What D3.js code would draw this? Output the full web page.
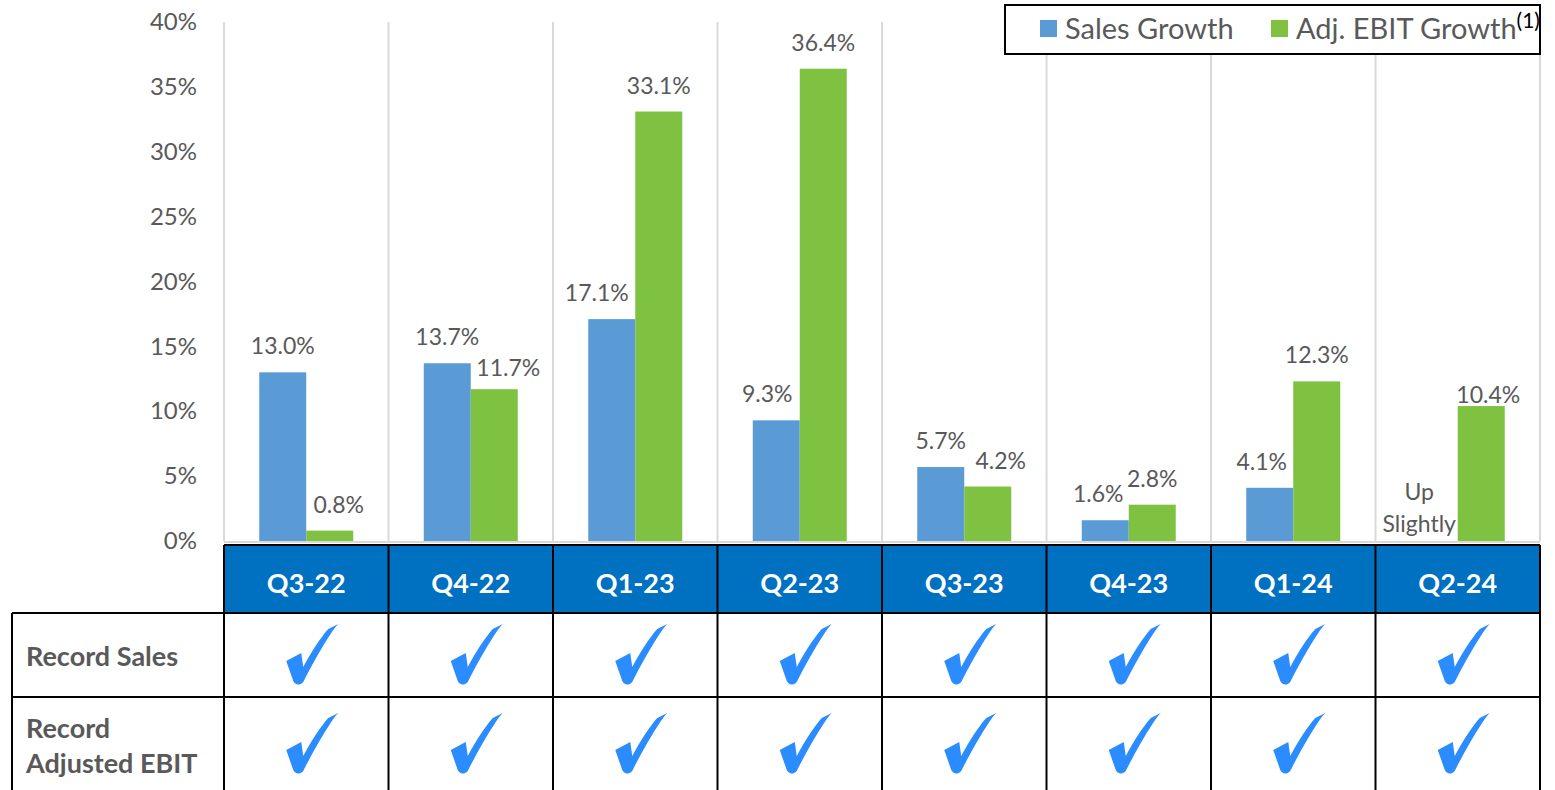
<!DOCTYPE html>
<html>
<head>
<meta charset="utf-8">
<script src="https://cdn.jsdelivr.net/npm/d3@7"></script>
<style>
  body { margin: 0; background: #fff; }
  svg { display: block; font-family: Lato, "Open Sans", sans-serif; }
</style>
</head>
<body>
<div id="chart"></div>
<script>
const quarters = ["Q3-22", "Q4-22", "Q1-23", "Q2-23", "Q3-23", "Q4-23", "Q1-24", "Q2-24"];
const salesGrowth = [13.0, 13.7, 17.1, 9.3, 5.7, 1.6, 4.1, null];
const ebitGrowth = [0.8, 11.7, 33.1, 36.4, 4.2, 2.8, 12.3, 10.4];
const seriesNames = ["Sales Growth", "Adj. EBIT Growth"];
const yTicks = [0, 5, 10, 15, 20, 25, 30, 35, 40];
const rowLabels = [["Record Sales"], ["Record", "Adjusted EBIT"]];
const recordSales = [true, true, true, true, true, true, true, true];
const recordEbit = [true, true, true, true, true, true, true, true];

const width = 1555, height = 790;
const colors = ["#5B9BD5", "#7FC241"];
const textGray = "#595959";

const svg = d3.select("#chart").append("svg")
    .attr("width", width)
    .attr("height", height);

const x = d3.scaleBand().domain(quarters).range([224, 1540]).paddingInner(0);
const x1 = d3.scaleBand().domain(seriesNames).range([0, x.bandwidth()]).paddingInner(0).paddingOuter(0.75);
const y = d3.scaleLinear().domain([0, 40]).range([541, 22]);

// gridlines (vertical separators) and plot border
const grid = svg.append("g").attr("stroke", "#d9d9d9").attr("stroke-width", 2);
grid.selectAll("line")
    .data(quarters.concat(["end"]))
    .join("line")
    .attr("x1", (d, i) => i < quarters.length ? x(d) : x.range()[1])
    .attr("x2", (d, i) => i < quarters.length ? x(d) : x.range()[1])
    .attr("y1", y(40))
    .attr("y2", y(0));
grid.append("line")
    .attr("x1", x.range()[0]).attr("x2", x.range()[1])
    .attr("y1", y(0) + 1).attr("y2", y(0) + 1);

// y axis labels
svg.append("g")
    .attr("transform", "translate(197,0)")
    .call(d3.axisLeft(y).tickValues(yTicks).tickFormat(d => d + "%").tickSize(0).tickPadding(0))
    .call(g => g.select(".domain").remove())
    .call(g => g.selectAll("text")
        .attr("font-family", "Lato, 'Open Sans', sans-serif")
        .attr("font-size", 24)
        .attr("fill", textGray));

// bars
const rows = quarters.map((q, i) => ({ q, vals: [salesGrowth[i], ebitGrowth[i]] }));
const groups = svg.append("g").selectAll("g")
    .data(rows)
    .join("g")
    .attr("transform", d => `translate(${x(d.q)},0)`);

groups.selectAll("rect")
    .data(d => d.vals.map((v, j) => ({ v, s: seriesNames[j], j })).filter(e => e.v !== null))
    .join("rect")
    .attr("x", d => x1(d.s))
    .attr("width", x1.bandwidth())
    .attr("y", d => y(d.v))
    .attr("height", d => y(0) - y(d.v))
    .attr("fill", d => colors[d.j]);

// data labels (manual nudges as in the original slide)
const labelShift = {
    "Q3-22|1": [9, 0],
    "Q4-22|1": [14, 5],
    "Q1-23|0": [-15, 0],
    "Q2-23|0": [-9, 0],
    "Q3-23|1": [13, 0],
    "Q4-23|0": [-7, 0],
    "Q1-24|0": [-8, 0],
    "Q2-24|1": [7, 15]
};
groups.selectAll("text.val")
    .data(d => d.vals.map((v, j) => ({ v, s: seriesNames[j], j, q: d.q })).filter(e => e.v !== null))
    .join("text")
    .attr("class", "val")
    .attr("x", d => x1(d.s) + x1.bandwidth() / 2 + (labelShift[d.q + "|" + d.j] || [0, 0])[0])
    .attr("y", d => y(d.v) - 18 + (labelShift[d.q + "|" + d.j] || [0, 0])[1])
    .attr("text-anchor", "middle")
    .attr("font-size", 23)
    .attr("fill", textGray)
    .text(d => d.v.toFixed(1) + "%");

// "Up Slightly" label for missing sales value
const upIdx = salesGrowth.findIndex(v => v === null);
const upX = x(quarters[upIdx]) + x1(seriesNames[0]) + x1.bandwidth() / 2 - 15;
const upText = svg.append("text")
    .attr("text-anchor", "middle")
    .attr("font-size", 23)
    .attr("fill", textGray);
upText.append("tspan").attr("x", upX).attr("y", 500).text("Up");
upText.append("tspan").attr("x", upX).attr("y", 532).text("Slightly");

// legend
const legend = svg.append("g");
legend.append("rect")
    .attr("x", 1005).attr("y", 5).attr("width", 535).attr("height", 49)
    .attr("fill", "#fff").attr("stroke", "#000").attr("stroke-width", 2);
const legendX = [1040, 1271];
seriesNames.forEach((name, i) => {
    legend.append("rect")
        .attr("x", legendX[i]).attr("y", 20).attr("width", 17).attr("height", 17)
        .attr("fill", colors[i]);
    const t = legend.append("text")
        .attr("x", legendX[i] + 25).attr("y", 39)
        .attr("font-size", 29)
        .attr("fill", textGray)
        .text(name);
    if (i === 1) {
        t.append("tspan").attr("dy", -11).attr("font-size", 21).attr("fill", "#000").text("(1)");
    }
});

// header band with quarter labels
const header = svg.append("g");
header.append("rect")
    .attr("x", x.range()[0]).attr("y", 545)
    .attr("width", x.range()[1] - x.range()[0]).attr("height", 68)
    .attr("fill", "#0070C0");
header.selectAll("text")
    .data(quarters)
    .join("text")
    .attr("x", d => x(d) + x.bandwidth() / 2)
    .attr("y", 593)
    .attr("text-anchor", "middle")
    .attr("font-size", 27)
    .attr("font-weight", "bold")
    .attr("fill", "#fff")
    .text(d => d);

// table lines
const lines = svg.append("g").attr("stroke", "#000").attr("stroke-width", 2);
lines.append("line").attr("x1", x.range()[0]).attr("x2", x.range()[1]).attr("y1", 545).attr("y2", 545);
[613, 697].forEach(yy => {
    lines.append("line").attr("x1", 12).attr("x2", x.range()[1]).attr("y1", yy).attr("y2", yy);
});
lines.append("line").attr("x1", 12).attr("x2", 12).attr("y1", 613).attr("y2", 790);
lines.selectAll("line.col")
    .data(quarters.concat(["end"]))
    .join("line")
    .attr("class", "col")
    .attr("x1", (d, i) => i < quarters.length ? x(d) : x.range()[1])
    .attr("x2", (d, i) => i < quarters.length ? x(d) : x.range()[1])
    .attr("y1", 545)
    .attr("y2", 790);

// row labels
const rowY = [[666], [738, 773]];
rowLabels.forEach((lbl, r) => {
    lbl.forEach((line, k) => {
        svg.append("text")
            .attr("x", 26).attr("y", rowY[r][k])
            .attr("font-size", 27)
            .attr("font-weight", "bold")
            .attr("fill", textGray)
            .text(line);
    });
});

// check marks
const checkPath = "M0,37 L15,29 L17,43 C25,28 34,14 42,5 L52,0 C49,3 47,6 45,9 C35,24 25,42 17,58 C13,62 9,61 7,57 Z";
const checkRows = [
    { flags: recordSales, top: 624 },
    { flags: recordEbit, top: 713 }
];
checkRows.forEach(row => {
    svg.append("g").selectAll("path")
        .data(quarters.filter((q, i) => row.flags[i]))
        .join("path")
        .attr("d", checkPath)
        .attr("transform", d => `translate(${x(d) + x.bandwidth() / 2 - 20},${row.top})`)
        .attr("fill", "#2B8CFF");
});
</script>
</body>
</html>
